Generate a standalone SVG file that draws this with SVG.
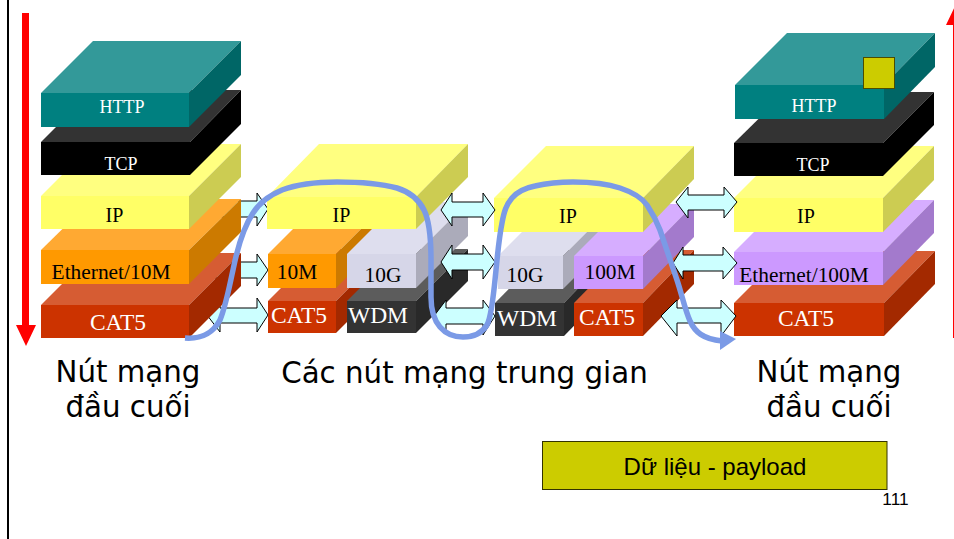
<svg xmlns="http://www.w3.org/2000/svg" width="954" height="539" viewBox="0 0 954 539">
<style>
text{font-family:"Liberation Serif","Times New Roman",serif;text-anchor:middle}
.s{font-size:18px}.n{font-size:20px}.e{font-size:21.4px}.m{font-size:23.5px}.w{fill:#fff}.k{fill:#000}
.lab{font-family:"DejaVu Sans",Verdana,sans-serif;font-size:29.3px;fill:#000}
.sans{font-family:"Liberation Sans",Arial,sans-serif;fill:#000}
.cy{fill:#ccffff;stroke:#000;stroke-width:1}
.tf{fill:#008080}.tt{fill:#339999}.ts{fill:#006666}
.bf{fill:#000}.bt{fill:#333}.bs{fill:#000}
.yf{fill:#ffff66}.yt{fill:#ffff80}.ys{fill:#cccc52}
.of{fill:#ff9900}.ot{fill:#ffa932}.os{fill:#cc7a00}
.rf{fill:#cc3300}.rt{fill:#d65c33}.rs{fill:#a32900}
.pf{fill:#cc99ff}.pt{fill:#d6adff}.ps{fill:#a37acc}
.gf{fill:#d6d6e8}.gt{fill:#dedeee}.gs{fill:#ababba}
.df{fill:#333}.dt{fill:#5c5c5c}.ds{fill:#292929}
</style>
<rect x="7" y="0" width="2" height="539" fill="#000"/>
<g id="connectors-back">
<path class="cy" d="M195 209L205 193V201H257V193L268 209L257 226V217H205V226Z"/>
<path class="cy" d="M195 270L205 254V262H257V254L268 270L257 286V278H205V286Z"/>
<path class="cy" d="M207 315L220 298V308H257V298L268 315L257 332V323H220V332Z"/>
</g>
<g id="stack-left">
<g id="l-cat5"><path class="rt" d="M41 305L93 253H241L189 305Z"/><path class="rs" d="M189 305L241 253V286L189 338Z"/><rect class="rf" x="41" y="305" width="148" height="33"/><text class="m w" x="118" y="330">CAT5</text></g>
<g id="l-eth"><path class="ot" d="M41 250L93 199H241L189 250Z"/><path class="os" d="M189 250L241 199V232L189 284Z"/><rect class="of" x="41" y="250" width="148" height="34"/><text class="e k" x="111" y="279">Ethernet/10M</text></g>
<g id="l-ip"><path class="yt" d="M41 196L93 144H241L189 196Z"/><path class="ys" d="M189 196L241 144V177L189 229Z"/><rect class="yf" x="41" y="196" width="148" height="33"/><text class="n k" x="114.500" y="222">IP</text></g>
<g id="l-tcp"><path class="bt" d="M41 142L93 90H241L190 142Z"/><path class="bs" d="M190 142L241 90V124L190 175Z"/><rect class="bf" x="41" y="142" width="149" height="33"/><text class="s w" x="121" y="170">TCP</text></g>
<g id="l-http"><path class="tt" d="M41 93L93 41H241L189 93Z"/><path class="ts" d="M189 93L241 41V75L189 127Z"/><rect class="tf" x="41" y="93" width="148" height="34"/><text class="s w" x="122" y="113">HTTP</text></g>
</g>
<g id="stack-mid1">
<g id="m1-cat5"><path class="rt" d="M268 301L320 249H388L336 301Z"/><path class="rs" d="M336 301L388 249V281L336 333Z"/><rect class="rf" x="268" y="301" width="68" height="32"/><text class="m w" x="299" y="323">CAT5</text></g>
<g id="m1-wdm"><path class="dt" d="M347 301L399 249H468L416 301Z"/><path class="ds" d="M416 301L468 249V281L416 333Z"/><rect class="df" x="347" y="301" width="69" height="32"/><text class="m w" x="378" y="323">WDM</text></g>
<g id="m1-10m"><path class="ot" d="M268 254L320 202H388L336 254Z"/><path class="os" d="M336 254L388 202V236L336 288Z"/><rect class="of" x="268" y="254" width="68" height="34"/><text class="e k" x="297" y="279">10M</text></g>
<g id="m1-10g"><path class="gt" d="M347 254L399 202H468L416 254Z"/><path class="gs" d="M416 254L468 202V236L416 288Z"/><rect class="gf" x="347" y="254" width="69" height="34"/><text class="e k" x="383" y="282">10G</text></g>
<g id="m1-ip"><path class="yt" d="M267 197L319 144H468L416 197Z"/><path class="ys" d="M416 197L468 144V177L416 229Z"/><rect class="yf" x="267" y="197" width="149" height="32"/><text class="n k" x="341.500" y="222">IP</text></g>
</g>
<g id="stack-mid2">
<g id="m2-wdm"><path class="dt" d="M495 303L547 250H615L564 303Z"/><path class="ds" d="M564 303L615 250V284L564 336Z"/><rect class="df" x="495" y="303" width="69" height="33"/><text class="m w" x="527" y="326">WDM</text></g>
<g id="m2-cat5"><path class="rt" d="M574 303L626 250H694L643 303Z"/><path class="rs" d="M643 303L694 250V284L643 336Z"/><rect class="rf" x="574" y="303" width="69" height="33"/><text class="m w" x="607" y="325">CAT5</text></g>
<g id="m2-10g"><path class="gt" d="M498 256L550 204H615L563 256Z"/><path class="gs" d="M563 256L615 204V237L563 289Z"/><rect class="gf" x="498" y="256" width="65" height="33"/><text class="e k" x="525" y="282">10G</text></g>
<g id="m2-100m"><path class="pt" d="M574 256L626 204H694L643 256Z"/><path class="ps" d="M643 256L694 204V237L643 289Z"/><rect class="pf" x="574" y="256" width="69" height="33"/><text class="e k" x="610" y="279">100M</text></g>
<g id="m2-ip"><path class="yt" d="M494 198L546 146H694L643 198Z"/><path class="ys" d="M643 198L694 146V179L643 232Z"/><rect class="yf" x="494" y="198" width="149" height="34"/><text class="n k" x="568" y="223">IP</text></g>
</g>
<g id="stack-right">
<g id="r-cat5"><path class="rt" d="M734 303L786 251H935L884 303Z"/><path class="rs" d="M884 303L935 251V284L884 336Z"/><rect class="rf" x="734" y="303" width="150" height="33"/><text class="m w" x="806" y="326">CAT5</text></g>
<g id="r-eth"><path class="pt" d="M734 252L786 200H934L883 252Z"/><path class="ps" d="M883 252L934 200V233L883 285Z"/><rect class="pf" x="734" y="252" width="149" height="33"/><text class="e k" x="804" y="282">Ethernet/100M</text></g>
<g id="r-ip"><path class="yt" d="M734 198L786 146H934L883 198Z"/><path class="ys" d="M883 198L934 146V180L883 232Z"/><rect class="yf" x="734" y="198" width="149" height="34"/><text class="n k" x="806" y="223">IP</text></g>
<g id="r-tcp"><path class="bt" d="M734 143L786 92H934L883 143Z"/><path class="bs" d="M883 143L934 92V125L883 176Z"/><rect class="bf" x="734" y="143" width="149" height="33"/><text class="s w" x="813" y="171">TCP</text></g>
<g id="r-http"><path class="tt" d="M735 85L787 33H935L884 85Z"/><path class="ts" d="M884 85L935 33V67L884 119Z"/><rect class="tf" x="735" y="85" width="149" height="34"/><text class="s w" x="814" y="112">HTTP</text></g>
<rect id="payload-square" x="863.500" y="57.500" width="31" height="31" fill="#cccc00" stroke="#4c4c00" stroke-width="1"/>
</g>
<g id="connectors">
<path class="cy" d="M441 210L452 193V202H483V193L495 210L483 226V217H452V226Z"/>
<path class="cy" d="M441 262L452 245V254H483V245L495 262L483 279V270H452V279Z"/>
<path class="cy" d="M434 316L446 300V308H483V300L495 316L483 335V324H446V335Z"/>
<path class="cy" d="M676 202L688 187V195H724V187L737 202L724 218V210H688V218Z"/>
<path class="cy" d="M673 263L683 247V255H723V247L737 263L723 279V271H683V279Z"/>
<path class="cy" d="M661 316L677 300V308H721V300L736 316L721 336V323H677V336Z"/>
<path d="M185 338C200 339 212 335 220 320C226 305 229 288 233 270C238 245 245 225 253 213C260 202 270 195 282 190C298 184 318 182 337 182C360 182 382 184 397 188C410 192 419 200 424 210C430 222 431 240 431 260L431 297C431 312 434 320 440 327C446 334 454 337 463 337C473 337 482 333 487 325C492 316 494 290 496 270C498 250 499 238 502 223C504 212 506 205 512 198C518 191 525 188 535 186C548 183 560 182 573 182C590 182 608 184 620 188C635 193 642 198 647 205C653 214 657 222 660 230C665 245 671 262 677 280C682 295 685 310 690 321C695 332 703 339 722 341" fill="none" stroke="#7b9ae6" stroke-width="5.500"/>
<path d="M720 331L736 339L720 350Z" fill="#7b9ae6"/>
<path d="M22 13H29V325H36L26 346L16 325H22Z" fill="#ff0000"/>
<path d="M953 338V25H946L956 4L966 25H959V338Z" fill="#ff0000"/>
</g>
<g id="labels">
<text class="lab" x="128" y="382">Nút mạng</text>
<text class="lab" x="128" y="417">đầu cuối</text>
<text class="lab" x="464.500" y="383">Các nút mạng trung gian</text>
<text class="lab" x="829" y="382">Nút mạng</text>
<text class="lab" x="829" y="417">đầu cuối</text>
</g>
<g id="legend">
<rect x="542.500" y="441.500" width="344.500" height="48" fill="#cccc00" stroke="#333300" stroke-width="1"/>
<text class="sans" x="715" y="475" style="font-size:24px">Dữ liệu - payload</text>
<text class="sans" x="895.500" y="505" style="font-size:17.300px">111</text>
</g>
</svg>
